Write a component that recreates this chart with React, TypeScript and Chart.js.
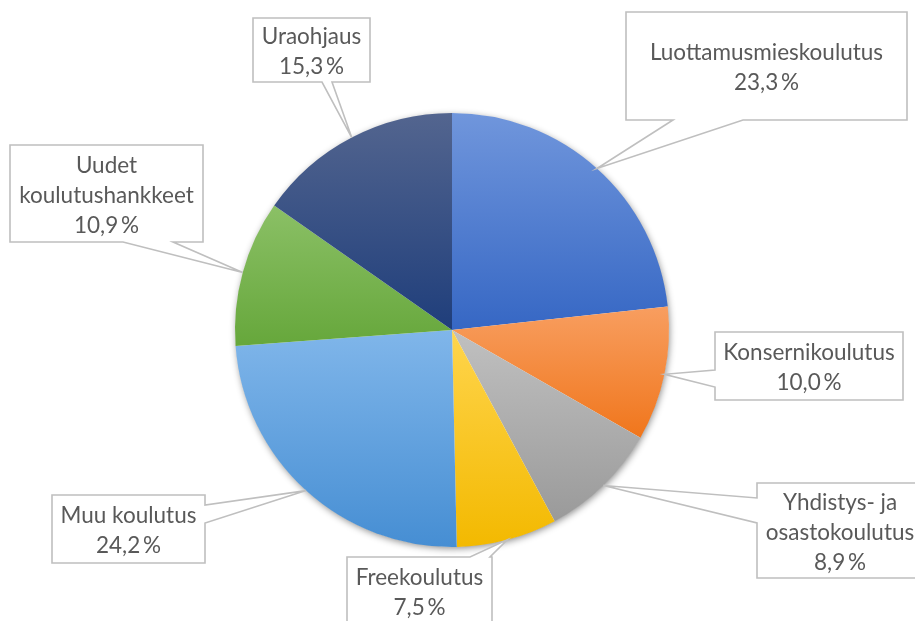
import { useEffect, useRef } from "react";
import { Chart, registerables } from "chart.js";

Chart.register(...registerables);

// ---- data ----
const categories = [
  "Luottamusmieskoulutus",
  "Konsernikoulutus",
  "Yhdistys- ja\nosastokoulutus",
  "Freekoulutus",
  "Muu koulutus",
  "Uudet\nkoulutushankkeet",
  "Uraohjaus",
];
const shares = [23.3, 10.0, 8.9, 7.5, 24.2, 10.9, 15.3];

// ---- styles ----
const topColors = ["#7096dc", "#f89e60", "#c0c0c0", "#ffd54d", "#80b6ea", "#8bc066", "#53658f"];
const bottomColors = ["#3667c4", "#f0761c", "#9a9a9a", "#f3b900", "#468ed3", "#66a73b", "#1f3e7b"];

type Box = { x: number; y: number; w: number; h: number; side: "top" | "bottom" | "left" | "right"; b1: number; b2: number };
const calloutBoxes: Box[] = [
  { x: 626, y: 12, w: 281, h: 108, side: "bottom", b1: 673, b2: 743 },
  { x: 715, y: 332, w: 188, h: 68, side: "left", b1: 370, b2: 387 },
  { x: 757, y: 483, w: 166, h: 95, side: "left", b1: 498, b2: 523 },
  { x: 347, y: 557, w: 145, h: 68, side: "top", b1: 470, b2: 490 },
  { x: 52, y: 495, w: 153, h: 68, side: "right", b1: 505, b2: 523 },
  { x: 10, y: 145, w: 193, h: 97, side: "bottom", b1: 123, b2: 173 },
  { x: 253, y: 18, w: 117, h: 64, side: "bottom", b1: 322, b2: 332 },
];

const FONT = "22.5px Lato";
const TEXT_COLOR = "#595959";
const BORDER_COLOR = "#bfbfbf";
const LINE_H = 30;

function sliceGradient(chart: any, i: number) {
  const area = chart.chartArea;
  if (!area) return bottomColors[i];
  const cx = (area.left + area.right) / 2;
  const cy = (area.top + area.bottom) / 2;
  const r = Math.min(area.right - area.left, area.bottom - area.top) / 2;
  const total = shares.reduce((a, b) => a + b, 0);
  let before = 0;
  for (let k = 0; k < i; k++) before += shares[k];
  const a0 = -Math.PI / 2 + (before / total) * Math.PI * 2;
  const a1 = a0 + (shares[i] / total) * Math.PI * 2;
  let ymin = cy, ymax = cy;
  const consider = (a: number) => {
    const y = cy + Math.sin(a) * r;
    ymin = Math.min(ymin, y);
    ymax = Math.max(ymax, y);
  };
  consider(a0);
  consider(a1);
  for (const ext of [-Math.PI / 2, Math.PI / 2, (3 * Math.PI) / 2]) {
    if (ext > a0 && ext < a1) consider(ext);
  }
  const g = chart.ctx.createLinearGradient(0, ymin, 0, ymax);
  g.addColorStop(0, topColors[i]);
  g.addColorStop(1, bottomColors[i]);
  return g;
}

const fmt = (v: number) => v.toFixed(1).replace(".", ",") + "\u2009%";

const shadowPlugin = {
  id: "pieShadow",
  beforeDatasetsDraw(chart: any) {
    const el = chart.getDatasetMeta(0).data[0];
    if (!el) return;
    const { x, y, outerRadius } = el.getProps(["x", "y", "outerRadius"], true);
    const ctx = chart.ctx;
    ctx.save();
    ctx.shadowColor = "rgba(0,0,0,0.45)";
    ctx.shadowBlur = 7;
    ctx.shadowOffsetX = 1;
    ctx.shadowOffsetY = 2;
    ctx.fillStyle = "#ffffff";
    ctx.beginPath();
    ctx.arc(x, y, outerRadius - 0.5, 0, Math.PI * 2);
    ctx.fill();
    ctx.restore();
  },
};

const calloutPlugin = {
  id: "callouts",
  afterDraw(chart: any) {
    const ctx = chart.ctx;
    const meta = chart.getDatasetMeta(0);
    meta.data.forEach((el: any, i: number) => {
      const b = calloutBoxes[i];
      if (!b) return;
      const { x, y, startAngle, endAngle, outerRadius } = el.getProps(
        ["x", "y", "startAngle", "endAngle", "outerRadius"],
        true
      );
      const mid = (startAngle + endAngle) / 2;
      const tx = x + Math.cos(mid) * outerRadius;
      const ty = y + Math.sin(mid) * outerRadius;
      const L = b.x, T = b.y, R = b.x + b.w, B = b.y + b.h;
      ctx.save();
      ctx.beginPath();
      if (b.side === "bottom") {
        ctx.moveTo(L, T); ctx.lineTo(R, T); ctx.lineTo(R, B);
        ctx.lineTo(b.b2, B); ctx.lineTo(tx, ty); ctx.lineTo(b.b1, B);
        ctx.lineTo(L, B);
      } else if (b.side === "top") {
        ctx.moveTo(L, T); ctx.lineTo(b.b1, T); ctx.lineTo(tx, ty); ctx.lineTo(b.b2, T);
        ctx.lineTo(R, T); ctx.lineTo(R, B); ctx.lineTo(L, B);
      } else if (b.side === "left") {
        ctx.moveTo(L, T); ctx.lineTo(R, T); ctx.lineTo(R, B); ctx.lineTo(L, B);
        ctx.lineTo(L, b.b2); ctx.lineTo(tx, ty); ctx.lineTo(L, b.b1);
      } else {
        ctx.moveTo(L, T); ctx.lineTo(R, T); ctx.lineTo(R, b.b1); ctx.lineTo(tx, ty);
        ctx.lineTo(R, b.b2); ctx.lineTo(R, B); ctx.lineTo(L, B);
      }
      ctx.closePath();
      ctx.fillStyle = "#ffffff";
      ctx.fill();
      ctx.lineWidth = 1.6;
      ctx.strokeStyle = BORDER_COLOR;
      ctx.lineJoin = "miter";
      ctx.stroke();

      const lines = [...String(chart.data.labels[i]).split("\n"), fmt(shares[i])];
      ctx.font = FONT;
      ctx.fillStyle = TEXT_COLOR;
      ctx.textAlign = "center";
      ctx.textBaseline = "middle";
      const cxText = L + b.w / 2;
      const cyText = T + b.h / 2 + 2;
      const startY = cyText - ((lines.length - 1) * LINE_H) / 2;
      lines.forEach((ln, k) => ctx.fillText(ln, cxText, startY + k * LINE_H));
      ctx.restore();
    });
  },
};

export default function App() {
  const ref = useRef<HTMLCanvasElement | null>(null);
  useEffect(() => {
    document.body.style.margin = "0";
    const canvas = ref.current;
    if (!canvas) return;
    const chart = new Chart(canvas, {
      type: "pie",
      data: {
        labels: categories,
        datasets: [
          {
            data: shares,
            backgroundColor: (c: any) => sliceGradient(c.chart, c.dataIndex),
            borderWidth: 0,
          },
        ],
      },
      options: {
        responsive: false,
        animation: false,
        events: [],
        layout: { padding: { left: 235, right: 246, top: 113, bottom: 74 } },
        plugins: {
          legend: { display: false },
          tooltip: { enabled: false },
        },
      },
      plugins: [shadowPlugin, calloutPlugin],
    });
    return () => chart.destroy();
  }, []);
  return (
    <div style={{ position: "absolute", left: 0, top: 0, width: 915, height: 621, background: "#fff" }}>
      <canvas ref={ref} width={915} height={621} style={{ display: "block" }} />
    </div>
  );
}
